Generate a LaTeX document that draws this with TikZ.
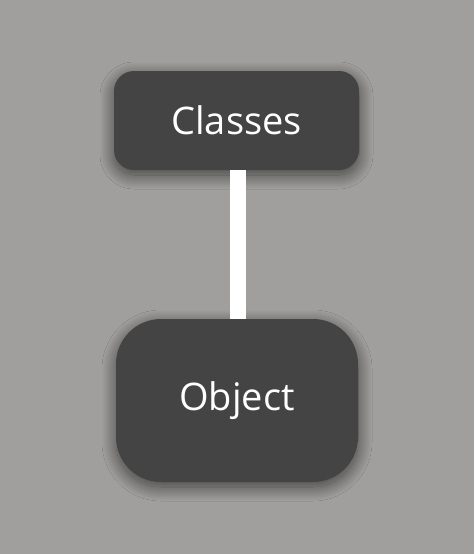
\documentclass[tikz,border=0pt]{standalone}
\usepackage{fontspec}
\setmainfont{Open Sans}
\usetikzlibrary{shadows.blur}
\definecolor{bg}{HTML}{A09F9D}
\definecolor{boxc}{HTML}{444444}
\tikzset{
  box/.style={fill=boxc, text=white, font=\fontsize{38}{41}\selectfont, inner sep=0pt,
    blur shadow={shadow xshift=0pt, shadow yshift=-5pt, shadow blur radius=14pt,
      shadow blur steps=30, shadow opacity=60}},
  link/.style={draw=white, line width=16pt}
}
\begin{document}
\begin{tikzpicture}[x=1pt,y=1pt]
\fill[bg] (0,0) rectangle (474,-554);
\useasboundingbox (0,0) rectangle (474,-554);
\node[box, rounded corners=20pt, minimum width=245pt, minimum height=99pt] (classes) at (236.5,-120.5) {Classes};
\node[box, rounded corners=45pt, minimum width=242pt, minimum height=163pt] (object) at (237,-400.5) {Object};
\draw[link] (238,-120.5 |- classes.south) -- (238,-400.5 |- object.north);
\end{tikzpicture}
\end{document}
